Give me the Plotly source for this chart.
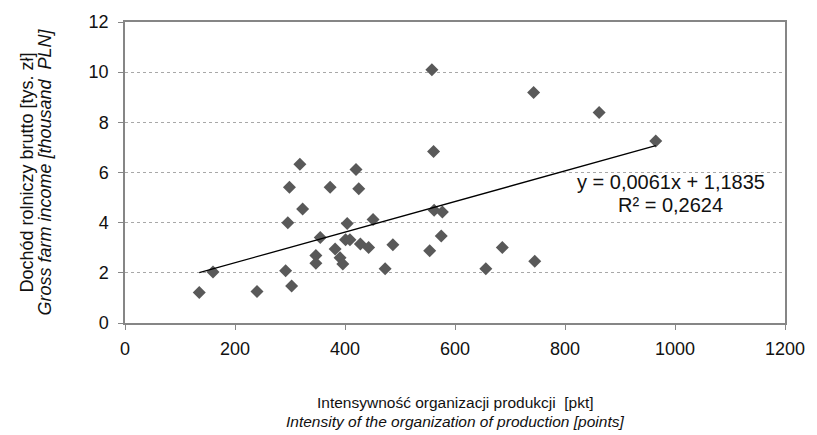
import plotly.graph_objects as go

# Data: intensity of organization of production [points] vs gross farm income [thousand PLN]
intensity = [135, 160, 240, 292, 303, 296, 299, 318, 323, 347, 347, 355, 373, 382, 391, 396,
             404, 401, 409, 420, 425, 428, 443, 451, 473, 487, 554, 558, 561, 562, 577, 575,
             656, 686, 743, 745, 862, 965]
income = [1.22, 2.03, 1.26, 2.08, 1.48, 4.00, 5.41, 6.33, 4.54, 2.69, 2.38, 3.41, 5.41, 2.95, 2.60, 2.35,
          3.97, 3.32, 3.32, 6.12, 5.35, 3.15, 3.01, 4.13, 2.16, 3.12, 2.88, 10.10, 6.84, 4.50, 4.43, 3.47,
          2.16, 3.01, 9.19, 2.46, 8.39, 7.26]

# Trendline coefficients as printed on the chart
slope = 0.0061
intercept = 1.1835
r_squared = 0.2624

x_ticks = [0, 200, 400, 600, 800, 1000, 1200]
y_ticks = [0, 2, 4, 6, 8, 10, 12]

trend_x = [min(intensity), max(intensity)]
trend_y = [slope * v + intercept for v in trend_x]

def fmt(v, d):
    return f"{v:.{d}f}".replace(".", ",")

font_family = "Liberation Sans, Arial, sans-serif"
axis_gray = "#868686"
text_color = "#111111"

fig = go.Figure()
fig.add_trace(go.Scatter(
    x=intensity, y=income, mode="markers",
    marker=dict(symbol="diamond", size=10, color="#595959"),
    showlegend=False, hoverinfo="x+y"))
fig.add_trace(go.Scatter(
    x=trend_x, y=trend_y, mode="lines",
    line=dict(color="black", width=1.3),
    showlegend=False, hoverinfo="skip"))

fig.update_layout(
    width=817, height=435,
    margin=dict(l=125, r=24, t=18, b=112),
    paper_bgcolor="white", plot_bgcolor="white",
    font=dict(family=font_family, size=15, color=text_color),
    xaxis=dict(range=[0, 1200], tickvals=x_ticks, ticktext=[str(v) for v in x_ticks],
               showgrid=False, zeroline=False, showline=True, linecolor=axis_gray,
               linewidth=1.5, mirror=True, ticks="outside", ticklen=5, tickcolor=axis_gray,
               ticklabelstandoff=4,
               tickfont=dict(size=18, color=text_color)),
    yaxis=dict(range=[0, 12], tickvals=y_ticks, ticktext=[str(v) for v in y_ticks],
               showgrid=True, gridcolor="#a8a8a8", griddash="dot", gridwidth=1,
               zeroline=False, showline=True, linecolor=axis_gray, linewidth=1.5,
               mirror=True, ticks="outside", ticklen=5, tickcolor=axis_gray,
               ticklabelstandoff=6,
               tickfont=dict(size=18, color=text_color)),
    annotations=[
        dict(x=992, y=5.63, xref="x", yref="y", showarrow=False,
             text=f"y = {fmt(slope, 4)}x + {fmt(intercept, 4)}",
             font=dict(size=20, color=text_color)),
        dict(x=992, y=4.72, xref="x", yref="y", showarrow=False,
             text=f"R² = {fmt(r_squared, 4)}",
             font=dict(size=20, color=text_color)),
        dict(x=0.5, y=0, xref="paper", yref="paper", yanchor="middle", yshift=-79,
             showarrow=False, text="Intensywność organizacji produkcji\u00a0\u00a0[pkt]",
             font=dict(size=15.5, color=text_color)),
        dict(x=0.5, y=0, xref="paper", yref="paper", yanchor="middle", yshift=-98,
             showarrow=False, text="<i>Intensity of the organization of production [points]</i>",
             font=dict(size=15.5, color=text_color)),
        dict(x=0, y=0.5, xref="paper", yref="paper", xanchor="center", xshift=-99,
             showarrow=False, textangle=-90, text="Dochód rolniczy brutto [tys. zł]",
             font=dict(size=18, color=text_color)),
        dict(x=0, y=0.5, xref="paper", yref="paper", xanchor="center", xshift=-81,
             showarrow=False, textangle=-90, text="<i>Gross farm income [thousand\u00a0\u00a0PLN]</i>",
             font=dict(size=18, color=text_color)),
    ],
)

fig.write_html("out.html", config={"displayModeBar": False},
               post_script="document.body.style.margin='0';document.body.style.overflow='hidden';")
